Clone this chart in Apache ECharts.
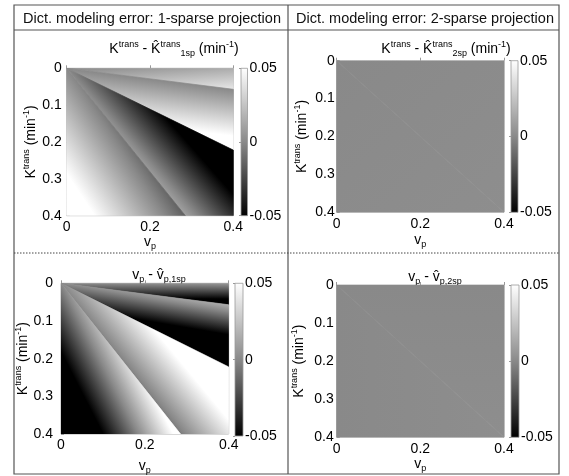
<!DOCTYPE html>
<html>
<head>
<meta charset="utf-8">
<script src="https://cdn.jsdelivr.net/npm/echarts@6/dist/echarts.min.js"></script>
<style>
html, body { margin: 0; padding: 0; background: #fff; }
#chart { width: 569px; height: 476px; }
</style>
</head>
<body>
<div id="chart"></div>
<script>
// axis ticks
var vpTicks = [0, 0.2, 0.4];
var ktransTicks = [0, 0.1, 0.2, 0.3, 0.4];
var errTicks = [-0.05, 0, 0.05];

// wedge edges: where each band boundary meets the plot border, [vp, Ktrans]
var bounds1sp = [[0.4, 0], [0.4, 0.057], [0.4, 0.222], [0.285, 0.4], [0, 0.4]];
var bounds2sp = [[0.4, 0], [0.4, 0.4], [0, 0.4]];

// error read at the two outer ends of each wedge
var ktransErr1sp = [[0.015, 0.04], [0.0, 0.065], [-0.085, 0.01], [-0.015, 0.07]];
var vpErr1sp = [[0.005, -0.07], [0.015, -0.12], [0.09, -0.005], [0.06, -0.11]];
var ktransErr2sp = [[0.001, 0.002], [0.002, 0.001]];
var vpErr2sp = [[0.0, 0.002], [0.002, 0.0]];

var FONT = '"Liberation Sans", Arial, Helvetica, sans-serif';
var vpMax = vpTicks[vpTicks.length - 1];
var ktMax = ktransTicks[ktransTicks.length - 1];
var errMax = errTicks[errTicks.length - 1];
var grayStops = [
    {offset: 0, color: '#000'},
    {offset: 0.5, color: '#898989'},
    {offset: 1, color: '#fff'}
];

var rich = {
    n: {fontSize: 14, lineHeight: 18, fontFamily: FONT, color: '#000'},
    sup: {fontSize: 9, lineHeight: 10, verticalAlign: 'top', fontFamily: FONT, color: '#000'},
    sub: {fontSize: 9, lineHeight: 12, verticalAlign: 'bottom', fontFamily: FONT, color: '#000'}
};

var ktName = '{n|K}{sup|trans}{n| (min}{sup|-1}{n|)}';
var vpName = '{n|v}{sub|p}';

var panels = [
    {bounds: bounds1sp, err: ktransErr1sp,
        title: '{n|K}{sup|trans}{n| - K\u0302}{sup|trans}{sub|1sp}{n| (min}{sup|-1}{n|)}',
        tx: 174, ty: 49, left: 66.7, top: 68.3, width: 166.6, height: 147.4,
        barLeft: 241, barWidth: 6.5, yGap: 27, xGap: 17, yMargin: 5, xMargin: 4},
    {bounds: bounds2sp, err: ktransErr2sp,
        title: '{n|K}{sup|trans}{n| - K\u0302}{sup|trans}{sub|2sp}{n| (min}{sup|-1}{n|)}',
        tx: 446, ty: 49, left: 336.7, top: 60.7, width: 167.3, height: 151.6,
        barLeft: 511, barWidth: 7, yGap: 26, xGap: 19, yMargin: 2, xMargin: 5},
    {bounds: bounds1sp, err: vpErr1sp,
        title: '{n|v}{sub|p}{n| - v\u0302}{sub|p,1sp}',
        tx: 159, ty: 275, left: 61, top: 283.3, width: 167.7, height: 152.7,
        barLeft: 235, barWidth: 8, yGap: 29, xGap: 23, yMargin: 8, xMargin: 4},
    {bounds: bounds2sp, err: vpErr2sp,
        title: '{n|v}{sub|p}{n| - v\u0302}{sub|p,2sp}',
        tx: 435, ty: 277, left: 336.7, top: 285, width: 167.3, height: 152.3,
        barLeft: 511, barWidth: 8, yGap: 29, xGap: 18, yMargin: 3, xMargin: 5}
];

function wedgeItem(params, api) {
    var ax = api.value(0), ay = api.value(1), bx = api.value(2), by = api.value(3);
    var va = api.value(4), vb = api.value(5);
    var o = api.coord([0, 0]);
    var pa = api.coord([ax, ay]);
    var pb = api.coord([bx, by]);
    var pts = [o, pa];
    if (ax === vpMax && ay < ktMax && by === ktMax && bx < vpMax) {
        pts.push(api.coord([vpMax, ktMax]));
    }
    pts.push(pb);
    // error grows linearly away from the origin inside a band
    var Ax = pa[0] - o[0], Ay = pa[1] - o[1], Bx = pb[0] - o[0], By = pb[1] - o[1];
    var det = Ax * By - Ay * Bx;
    var gx = (va * By - vb * Ay) / det;
    var gy = (vb * Ax - va * Bx) / det;
    var g2 = gx * gx + gy * gy;
    var fill = '#898989';
    if (g2 > 1e-16) {
        var k = errMax / g2;
        fill = {
            type: 'linear', global: true,
            x: o[0] - gx * k, y: o[1] - gy * k,
            x2: o[0] + gx * k, y2: o[1] + gy * k,
            colorStops: grayStops
        };
    }
    return {type: 'polygon', shape: {points: pts},
        style: {fill: fill, stroke: fill, lineWidth: 0.7}};
}

function barItem(params, api) {
    var p0 = api.coord([0, errMax]);
    var p1 = api.coord([1, -errMax]);
    return {
        type: 'rect',
        shape: {x: p0[0], y: p0[1], width: p1[0] - p0[0], height: p1[1] - p0[1]},
        style: {
            fill: {type: 'linear', x: 0, y: 1, x2: 0, y2: 0, colorStops: grayStops},
            stroke: '#9a9a9a', lineWidth: 0.8
        }
    };
}

var grid = [], xAxis = [], yAxis = [], series = [], graphic = [];

panels.forEach(function (p, i) {
    grid.push({left: p.left, top: p.top, width: p.width, height: p.height,
        show: true, borderColor: '#a0a0a0', borderWidth: 0.8, backgroundColor: 'transparent'});
    grid.push({left: p.barLeft, top: p.top, width: p.barWidth, height: p.height});

    xAxis.push({
        gridIndex: 2 * i, type: 'value', min: 0, max: vpMax, interval: vpTicks[1] - vpTicks[0],
        axisLine: {show: false}, splitLine: {show: false},
        axisTick: {show: true, inside: true, length: 3, lineStyle: {color: '#999'}},
        axisLabel: {fontSize: 14, color: '#000', fontFamily: FONT, margin: p.xMargin},
        name: vpName, nameLocation: 'middle', nameGap: p.xGap, nameMoveOverlap: false,
        nameTextStyle: {rich: rich}
    });
    xAxis.push({gridIndex: 2 * i + 1, type: 'value', min: 0, max: 1, show: false});

    yAxis.push({
        gridIndex: 2 * i, type: 'value', inverse: true, min: 0, max: ktMax,
        interval: ktransTicks[1] - ktransTicks[0],
        axisLine: {show: false}, splitLine: {show: false},
        axisTick: {show: true, inside: true, length: 3, lineStyle: {color: '#999'}},
        axisLabel: {fontSize: 14, color: '#000', fontFamily: FONT, margin: p.yMargin},
        name: ktName, nameLocation: 'middle', nameRotate: 90, nameGap: p.yGap,
        nameMoveOverlap: false,
        nameTextStyle: {rich: rich}
    });
    yAxis.push({
        gridIndex: 2 * i + 1, type: 'value', position: 'right',
        min: errTicks[0], max: errMax, interval: errTicks[1] - errTicks[0],
        axisLine: {show: false}, splitLine: {show: false},
        axisTick: {show: true, inside: true, length: 2, lineStyle: {color: '#999'}},
        axisLabel: {fontSize: 14, color: '#000', fontFamily: FONT, margin: 2,
            formatter: function (v) { return Math.abs(v) < 1e-9 ? '0' : v.toFixed(2); }}
    });

    var data = p.err.map(function (e, j) {
        var a = p.bounds[j], b = p.bounds[j + 1];
        return [a[0], a[1], b[0], b[1], e[0], e[1]];
    });
    series.push({
        type: 'custom', xAxisIndex: 2 * i, yAxisIndex: 2 * i,
        coordinateSystem: 'cartesian2d', renderItem: wedgeItem,
        data: data, silent: true, clip: true, z: 1
    });
    series.push({
        type: 'custom', xAxisIndex: 2 * i + 1, yAxisIndex: 2 * i + 1,
        coordinateSystem: 'cartesian2d', renderItem: barItem,
        data: [[0.5, 0]], silent: true
    });

    graphic.push({
        type: 'text', x: p.tx, y: p.ty, silent: true,
        style: {text: p.title, rich: rich, align: 'center', verticalAlign: 'middle'}
    });
});

// table frame
var frameColor = '#555';
graphic.push(
    {type: 'rect', shape: {x: 14, y: 5, width: 545, height: 469}, silent: true,
        style: {fill: null, stroke: frameColor, lineWidth: 1.2}},
    {type: 'line', shape: {x1: 14, y1: 30, x2: 559, y2: 30}, silent: true,
        style: {stroke: frameColor, lineWidth: 1.2}},
    {type: 'line', shape: {x1: 288, y1: 5, x2: 288, y2: 474}, silent: true,
        style: {stroke: frameColor, lineWidth: 1.2}},
    {type: 'line', shape: {x1: 14, y1: 253, x2: 559, y2: 253}, silent: true,
        style: {stroke: '#444', lineWidth: 1, lineDash: [1.5, 1.5]}},
    {type: 'text', x: 152, y: 18.5, silent: true,
        style: {text: 'Dict. modeling error: 1-sparse projection', font: '14.5px ' + FONT,
            fill: '#111', align: 'center', verticalAlign: 'middle'}},
    {type: 'text', x: 425, y: 18.5, silent: true,
        style: {text: 'Dict. modeling error: 2-sparse projection', font: '14.5px ' + FONT,
            fill: '#111', align: 'center', verticalAlign: 'middle'}}
);

var chart = echarts.init(document.getElementById('chart'));
chart.setOption({
    backgroundColor: '#fff',
    animation: false,
    grid: grid,
    xAxis: xAxis,
    yAxis: yAxis,
    series: series,
    graphic: graphic
});
</script>
</body>
</html>
